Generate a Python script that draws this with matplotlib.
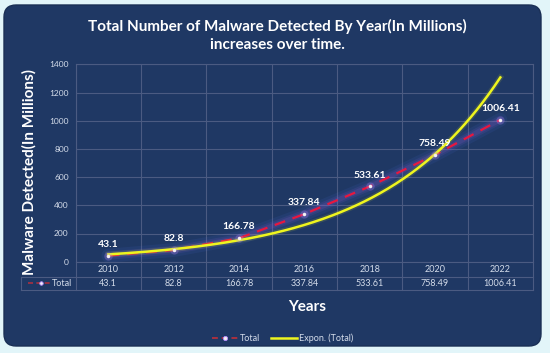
import numpy as np
import matplotlib
matplotlib.use("Agg")
import matplotlib.pyplot as plt
from matplotlib.patches import FancyBboxPatch
from matplotlib.lines import Line2D
from matplotlib.transforms import blended_transform_factory

years = ["2010", "2012", "2014", "2016", "2018", "2020", "2022"]
totals = [43.1, 82.8, 166.78, 337.84, 533.61, 758.49, 1006.41]
total_labels = ["43.1", "82.8", "166.78", "337.84", "533.61", "758.49", "1006.41"]
yticks = [0, 200, 400, 600, 800, 1000, 1200, 1400]

NAVY = "#1f3864"
GRID = "#4b5b82"
TXT = "#d4dcea"
RED = "#e8173f"
YEL = "#eef51e"

plt.rcParams["font.family"] = ["Lato", "DejaVu Sans"]

fig = plt.figure(figsize=(5.5, 3.53), dpi=100)
fig.patch.set_facecolor("#e2f5f9")
W, H = 550, 353
panel = FancyBboxPatch((4 / W, 7 / H), 537 / W, 341 / H,
                       boxstyle="round,pad=0,rounding_size=0.022",
                       transform=fig.transFigure, facecolor=NAVY,
                       edgecolor="#1a2f55", lw=1, mutation_aspect=W / H, zorder=-5)
fig.patches.append(panel)

ax = fig.add_axes([75.7 / W, 91.3 / H, 457.3 / W, 197.4 / H])
ax.set_facecolor("none")
x = np.arange(len(years))
ax.set_xlim(-0.5, len(years) - 0.5)
ax.set_ylim(0, 1400)
ax.set_yticks(yticks)
ax.set_yticklabels([str(v) for v in yticks], color=TXT, fontsize=6)
ax.set_xticks([])
ax.tick_params(axis="y", length=0, pad=5)
ax.grid(axis="y", color=GRID, lw=0.8)
for k in range(len(years) + 1):
    ax.axvline(k - 0.5, color=GRID, lw=0.8)
for s in ax.spines.values():
    s.set_color(GRID)
    s.set_linewidth(0.8)

# soft glow under the data line
for lw, a, c in [(10, 0.08, "#5a7cff"), (6, 0.12, "#8a5cd8"), (3.5, 0.15, "#9a60d0")]:
    ax.plot(x, totals, color=c, lw=lw, alpha=a, solid_capstyle="round", zorder=2)
ax.plot(x, totals, color=RED, lw=1.6, ls=(0, (5, 3.5)), zorder=3)

# exponential trend line
b, a0 = np.polyfit(x, np.log(totals), 1)
xt = np.linspace(0, len(years) - 1, 200)
ax.plot(xt, np.exp(a0 + b * xt), color=YEL, lw=4, alpha=0.12, zorder=3)
ax.plot(xt, np.exp(a0 + b * xt), color=YEL, lw=1.8, zorder=4)

ax.plot(x, totals, ls="none", marker="o", ms=6, color="#b48cff", alpha=0.25, mec="none", zorder=5)
ax.plot(x, totals, ls="none", marker="o", ms=2.5, color="#f4f0f4", mec="none", zorder=6)
for xi, v, lab in zip(x, totals, total_labels):
    ax.annotate(lab, (xi, v), xytext=(0, 5), textcoords="offset points",
                ha="center", va="bottom", color="white", fontsize=7.5,
                fontweight="bold", zorder=7)

# data table under the axis
tr = blended_transform_factory(ax.transData, ax.transAxes)
r1, r2 = -15 / 197.4, -28.3 / 197.4
xl = -0.5 - 54.7 / 457.3 * 7
kw = dict(color=GRID, lw=0.8, transform=tr, clip_on=False)
for k in range(len(years) + 1):
    ax.plot([k - 0.5, k - 0.5], [r2, 0], **kw)
ax.plot([xl, xl], [r2, r1], **kw)
ax.plot([xl, len(years) - 0.5], [r1, r1], **kw)
ax.plot([xl, len(years) - 0.5], [r2, r2], **kw)
for xi, yr, lab in zip(x, years, total_labels):
    ax.text(xi, r1 / 2, yr, ha="center", va="center", color=TXT, fontsize=6.5, transform=tr)
    ax.text(xi, (r1 + r2) / 2, lab, ha="center", va="center", color=TXT, fontsize=6.5, transform=tr)
ax.text(-0.56, (r1 + r2) / 2, "Total", ha="right", va="center", color=TXT, fontsize=6.5, transform=tr)
ax.plot([xl + 0.1, xl + 0.45], [(r1 + r2) / 2] * 2, color="#a83040", lw=1.2, ls=(0, (3, 2)),
        transform=tr, clip_on=False)
ax.plot([xl + 0.3], [(r1 + r2) / 2], marker="o", ms=2.5, color="#f4f0f4", mec="#b48cff",
        mew=0.6, transform=tr, clip_on=False)

fig.text(277 / W, 1 - 26 / H, "Total Number of Malware Detected By Year(In Millions)",
         ha="center", va="center", color="white", fontsize=11, fontweight="bold")
fig.text(277 / W, 1 - 45 / H, "increases over time.",
         ha="center", va="center", color="white", fontsize=11, fontweight="bold")
fig.text(29 / W, 1 - 172 / H, "Malware Detected(In Millions)", rotation=90,
         ha="center", va="center", color="white", fontsize=11, fontweight="bold")
fig.text(307 / W, 1 - 307 / H, "Years", ha="center", va="center",
         color="white", fontsize=11, fontweight="bold")

handles = [Line2D([], [], color="#a83040", lw=1.4, ls=(0, (3, 2)), marker="o", ms=3,
                  mfc="#f4f0f4", mec="#b48cff", mew=0.6),
           Line2D([], [], color=YEL, lw=1.8)]
leg = fig.legend(handles, ["Total", "Expon. (Total)"], loc="center",
                 bbox_to_anchor=(283 / W, 15 / H), ncol=2, frameon=False,
                 fontsize=6.5, handlelength=2.8, columnspacing=1.2, handletextpad=0.3)
for t in leg.get_texts():
    t.set_color(TXT)

fig.savefig("out.png", dpi=100, facecolor=fig.get_facecolor())
